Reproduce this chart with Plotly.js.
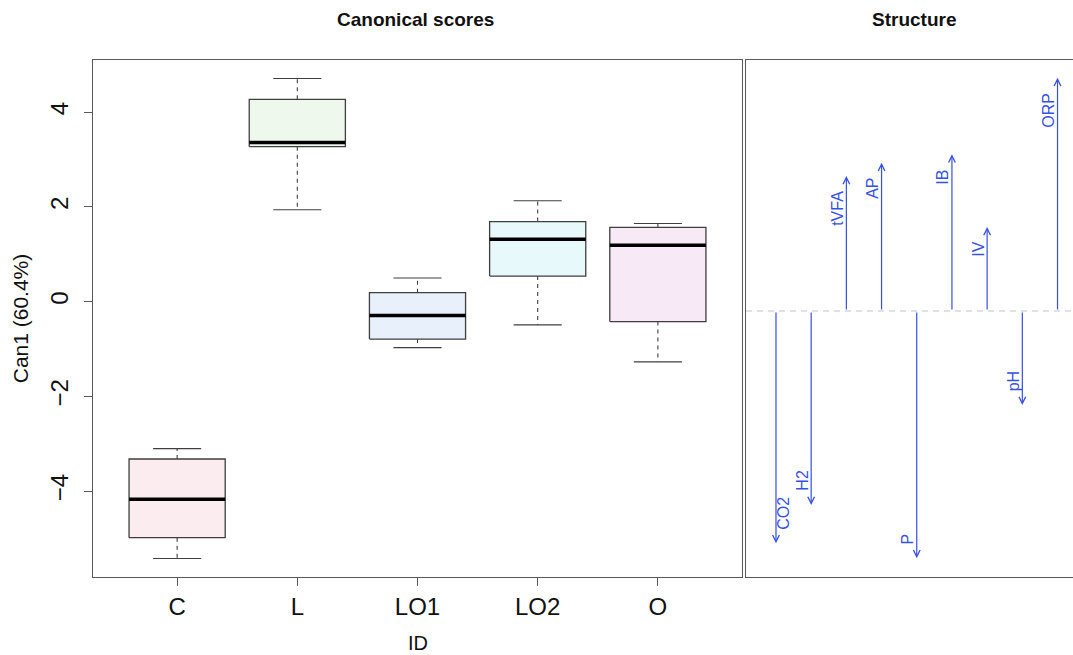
<!DOCTYPE html>
<html><head><meta charset="utf-8">
<script src="https://cdn.plot.ly/plotly-3.0.1.min.js"></script>
<style>html,body{margin:0;padding:0;background:#fff}#chart{width:1073px;height:655px}</style>
</head><body><div id="chart"></div>
<script>
// ---- data ----
const categories   = ['C', 'L', 'LO1', 'LO2', 'O'];
const upperWhisker = [-3.10, 4.71, 0.50, 2.13, 1.65];
const q3           = [-3.32, 4.27, 0.19, 1.69, 1.57];
const median       = [-4.17, 3.36, -0.29, 1.32, 1.19];
const q1           = [-4.98, 3.27, -0.79, 0.54, -0.42];
const lowerWhisker = [-5.42, 1.94, -0.97, -0.49, -1.27];
const yTicks       = [-4, -2, 0, 2, 4];
const variables    = ['CO2', 'H2', 'tVFA', 'AP', 'P', 'IB', 'IV', 'pH', 'ORP'];
const structure    = [-0.929, -0.776, 0.540, 0.593, -0.989, 0.627, 0.336, -0.376, 0.933];

// ---- styles ----
const boxFills = ['#fbecef', '#eef8ec', '#e8f1fb', '#e7f9fa', '#f8e9f6'];
const boxLine = '#3f3f3f';
const arrowBlue = '#3650e4';
const FONT = 'Liberation Sans, Arial, Helvetica, sans-serif';
const W = 1073, H = 655, TOP = 60, BOT = 78;
const PH = H - TOP - BOT;
const fx = p => p / W;
const py = p => 1 - (p - TOP) / PH;   // pixel row -> paper y
const halfBox = 0.4, halfCap = 0.2;

const traces = [];
categories.forEach((c, k) => {
  const i = k + 1;
  traces.push({x: [i - halfBox, i + halfBox, i + halfBox, i - halfBox, i - halfBox],
    y: [q1[k], q1[k], q3[k], q3[k], q1[k]], mode: 'lines', fill: 'toself',
    fillcolor: boxFills[k], line: {color: boxLine, width: 1.3}, hoverinfo: 'skip', showlegend: false, xaxis: 'x', yaxis: 'y'});
  traces.push({x: [i, i], y: [q3[k], upperWhisker[k]], mode: 'lines',
    line: {color: boxLine, width: 1.1, dash: '4px,4px'}, hoverinfo: 'skip', showlegend: false});
  traces.push({x: [i, i], y: [q1[k], lowerWhisker[k]], mode: 'lines',
    line: {color: boxLine, width: 1.1, dash: '4px,4px'}, hoverinfo: 'skip', showlegend: false});
  traces.push({x: [i - halfCap, i + halfCap], y: [upperWhisker[k], upperWhisker[k]], mode: 'lines',
    line: {color: boxLine, width: 1.2}, hoverinfo: 'skip', showlegend: false});
  traces.push({x: [i - halfCap, i + halfCap], y: [lowerWhisker[k], lowerWhisker[k]], mode: 'lines',
    line: {color: boxLine, width: 1.2}, hoverinfo: 'skip', showlegend: false});
  traces.push({x: [i - halfBox, i + halfBox], y: [median[k], median[k]], mode: 'lines',
    line: {color: '#000', width: 3.5}, hoverinfo: 'skip', showlegend: false});
});
// invisible trace to activate second subplot
traces.push({x: variables.map((v, k) => k + 1), y: structure, mode: 'markers', marker: {opacity: 0},
  hoverinfo: 'skip', showlegend: false, xaxis: 'x2', yaxis: 'y2'});

const annotations = [
  {text: '<b>Canonical scores</b>', x: fx(415), y: py(19), xref: 'paper', yref: 'paper',
   xanchor: 'center', yanchor: 'middle',
   showarrow: false, font: {family: FONT, size: 19, color: '#111'}},
  {text: '<b>Structure</b>', x: fx(914), y: py(19), xref: 'paper', yref: 'paper',
   xanchor: 'center', yanchor: 'middle',
   showarrow: false, font: {family: FONT, size: 19, color: '#111'}},
  {text: 'ID', x: fx(417.5), y: py(654), xref: 'paper', yref: 'paper',
   xanchor: 'center', yanchor: 'bottom', borderpad: 0, borderwidth: 0,
   showarrow: false, font: {family: FONT, size: 20, color: '#111'}}
];
variables.forEach((v, k) => {
  const i = k + 1, s = structure[k];
  annotations.push({x: i, y: s, ax: i, ay: 0, xref: 'x2', yref: 'y2', axref: 'x2', ayref: 'y2',
    text: '', showarrow: true, arrowhead: 5, arrowsize: 1.1, arrowwidth: 1.2, arrowcolor: arrowBlue,
    standoff: 0, startstandoff: 0});
  const rightSide = (k === 0);
  annotations.push({x: i, y: s, xref: 'x2', yref: 'y2', text: v, showarrow: false, textangle: -90,
    xanchor: 'center', yanchor: s > 0 ? 'top' : 'bottom', xshift: rightSide ? 8 : -9,
    yshift: s > 0 ? -13 : 12, font: {family: FONT, size: 16, color: arrowBlue}});
});

const layout = {
  width: W, height: H, margin: {l: 0, r: 0, t: TOP, b: BOT},
  paper_bgcolor: '#fff', plot_bgcolor: '#fff', showlegend: false,
  font: {family: FONT, color: '#111'},
  xaxis: {domain: [fx(93), fx(742)], range: [0.3, 5.7], tickvals: [1, 2, 3, 4, 5], ticktext: categories,
    showline: true, mirror: true, linecolor: '#5a5a5a', linewidth: 1.2, ticks: 'outside', ticklen: 8,
    tickcolor: '#5a5a5a', tickfont: {size: 24, color: '#111'}, showgrid: false, zeroline: false,
    automargin: false},
  yaxis: {domain: [0, 1], range: [-5.81, 5.10], tickvals: yTicks, tickangle: -90,
    showline: true, mirror: true, linecolor: '#5a5a5a', linewidth: 1.2, ticks: 'outside', ticklen: 8,
    tickcolor: '#5a5a5a', tickfont: {size: 24, color: '#111'}, showgrid: false, zeroline: false,
    ticklabelstandoff: 6,
    automargin: false, title: {text: 'Can1 (60.4%)', font: {size: 21, color: '#111'}, standoff: 11}},
  xaxis2: {domain: [fx(746), 1], range: [0.148, 9.44], anchor: 'y2', showline: true, mirror: true,
    linecolor: '#5a5a5a', linewidth: 1.2, showticklabels: false, ticks: '', showgrid: false, zeroline: false},
  yaxis2: {domain: [0, 1], range: [-1.064, 1.004], anchor: 'x2', showline: true, mirror: false,
    linecolor: '#5a5a5a', linewidth: 1.2, showticklabels: false, ticks: '', showgrid: false, zeroline: false},
  shapes: [{type: 'line', xref: 'x2 domain', yref: 'y2', x0: 0, x1: 1, y0: 0, y1: 0,
    line: {color: '#c4c4c4', width: 1.2, dash: '6px,5px'}, layer: 'below'}],
  annotations: annotations
};
Plotly.newPlot('chart', traces, layout, {displayModeBar: false, staticPlot: true});
</script>
</body></html>
